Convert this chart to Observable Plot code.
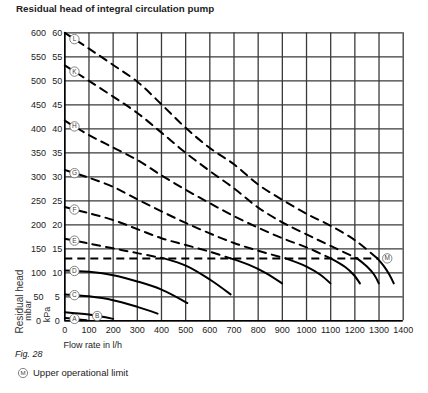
<!DOCTYPE html>
<html><head><meta charset="utf-8">
<script src="https://cdn.jsdelivr.net/npm/d3@7"></script>
<script src="https://cdn.jsdelivr.net/npm/@observablehq/plot@0.6"></script>
<style>
body{margin:0;background:#fff;font-family:"Liberation Sans",Arial,sans-serif;color:#222;}
#wrap{position:relative;width:428px;height:393px;overflow:hidden;}
#title{position:absolute;left:16px;top:3.8px;font-weight:bold;font-size:9.8px;line-height:1;white-space:nowrap;}
#chart{position:absolute;left:0;top:20px;}
#fig{position:absolute;left:15px;top:350px;font-style:italic;font-size:9px;line-height:1;}
#legsym{position:absolute;left:16.5px;top:366.8px;}
#legtxt{position:absolute;left:33px;top:367.5px;font-size:9.5px;line-height:1;white-space:nowrap;}
</style></head>
<body>
<div id="wrap">
  <div id="title">Residual head of integral circulation pump</div>
  <div id="chart"></div>
  <div id="fig">Fig. 28</div>
  <svg id="legsym" width="12" height="12"><circle cx="6" cy="6" r="4.6" fill="#fff" stroke="#666" stroke-width="0.8"/><text x="6" y="8.2" text-anchor="middle" font-size="6.2" font-family="Liberation Sans, Arial, sans-serif" fill="#444">M</text></svg>
  <div id="legtxt">Upper operational limit</div>
</div>
<script>
// ---- data (flow in l/h, residual head in mbar) ----
const xTicks = [0,100,200,300,400,500,600,700,800,900,1000,1100,1200,1300,1400];
const mbarTicks = [0,50,100,150,200,250,300,350,400,450,500,550,600];
const kPaTicks = [0,5,10,15,20,25,30,35,40,45,50,55,60];

const flowA = [0, 50, 90];
const headA = [6, 3.5, 1];
const flowB = [0, 100, 200];
const headB = [18, 13, 4];
const flowC = [0, 100, 200, 300, 384];
const headC = [55, 51, 43, 29, 15];
const flowD = [0, 100, 200, 300, 400, 507];
const headD = [105, 102, 95, 82, 65, 37];
const flowE = [0, 100, 200, 300, 410, 505, 600, 686];
const headE = [171, 161, 151, 141, 130, 114, 86, 55];
const flowF = [0, 100, 200, 300, 400, 500, 600, 686, 760, 830, 899];
const headF = [237, 224, 210, 191, 172, 158, 144, 130, 117, 100, 78];
const flowG = [0, 100, 200, 300, 400, 500, 600, 700, 800, 913, 1000, 1060, 1099];
const headG = [314, 298, 279, 253, 228, 204, 182, 162, 146, 130, 113, 95, 78];
const flowH = [0, 100, 200, 300, 400, 500, 600, 700, 800, 900, 1000, 1100, 1160, 1195, 1221];
const headH = [417, 387, 361, 335, 303, 273, 245, 218, 194, 172, 153, 130, 112, 96, 78];
const flowK = [0, 100, 200, 300, 400, 500, 600, 700, 800, 900, 1000, 1100, 1209, 1250, 1280, 1299];
const headK = [532, 500, 467, 433, 392, 350, 312, 276, 236, 205, 180, 156, 130, 113, 96, 78];
const flowL = [0, 100, 200, 300, 400, 500, 600, 700, 800, 900, 1000, 1100, 1200, 1293, 1320, 1343, 1361];
const headL = [600, 567, 533, 498, 451, 402, 360, 326, 284, 252, 223, 198, 168, 130, 114, 96, 78];

const curveNames = ["A","B","C","D","E","F","G","H","K","L"];
const curveDashed = [false,false,false,false,true,true,true,true,true,true];
const labelFlow = [40, 134, 40, 40, 40, 40, 40, 40, 40, 40];

const upperLimit = 130;          // M: upper operational limit (mbar)
const limitFlow = [0, 1300];
const mLabelFlow = 1334;

// ---- build tables ----
const flows = [flowA, flowB, flowC, flowD, flowE, flowF, flowG, flowH, flowK, flowL];
const heads = [headA, headB, headC, headD, headE, headF, headG, headH, headK, headL];
const dashedRows = [], solidRows = [], labelRows = [];
curveNames.forEach((name, ci) => {
  const fl = flows[ci], hd = heads[ci];
  fl.forEach((f, i) => {
    const h = hd[i];
    if (curveDashed[ci] && h >= upperLimit) dashedRows.push({curve: name, flow: f, head: h});
    if (!curveDashed[ci] || h <= upperLimit) solidRows.push({curve: name, flow: f, head: h});
  });
  const lf = labelFlow[ci];
  let j = 0; while (j < fl.length - 2 && fl[j + 1] < lf) j++;
  const t = (lf - fl[j]) / (fl[j + 1] - fl[j]);
  labelRows.push({curve: name, flow: lf, head: hd[j] + t * (hd[j + 1] - hd[j])});
});
labelRows.push({curve: "M", flow: mLabelFlow, head: upperLimit});
const kpaByMbar = new Map(mbarTicks.map((v, i) => [v, kPaTicks[i]]));

const font = "Liberation Sans, Arial, sans-serif";
const chart = Plot.plot({
  width: 428, height: 330,
  marginLeft: 64.3, marginRight: 25.3, marginTop: 12.3, marginBottom: 29.7,
  x: {domain: [0, 1400]},
  y: {domain: [0, 600]},
  style: {fontFamily: font, fontSize: "9px", color: "#222", background: "#fff", overflow: "visible"},
  marks: [
    Plot.ruleX(xTicks, {stroke: "#3a3a3a", strokeWidth: 1.3}),
    Plot.ruleY(mbarTicks, {stroke: "#3a3a3a", strokeWidth: 1.3}),
    Plot.ruleX([0], {stroke: "#000", strokeWidth: 1.5}),
    Plot.ruleY([0], {stroke: "#000", strokeWidth: 1.5}),
    Plot.ruleY([upperLimit], {x1: limitFlow[0], x2: limitFlow[1], stroke: "#000", strokeWidth: 2, strokeDasharray: "8,5"}),
    Plot.line(dashedRows, {x: "flow", y: "head", z: "curve", stroke: "#000", strokeWidth: 2, strokeDasharray: "8,6", curve: "catmull-rom"}),
    Plot.line(solidRows, {x: "flow", y: "head", z: "curve", stroke: "#000", strokeWidth: 2, curve: "catmull-rom"}),
    Plot.dot(labelRows, {x: "flow", y: "head", r: 4.7, fill: "#fff", stroke: "#666", strokeWidth: 0.8}),
    Plot.text(labelRows, {x: "flow", y: "head", text: "curve", fontSize: 6.5, fill: "#444"}),
    Plot.axisX({ticks: xTicks, tickSize: 0, tickPadding: 5.7, label: null, fontSize: 9, tickFormat: d => String(d)}),
    Plot.axisY({ticks: mbarTicks, tickSize: 0, tickPadding: 26.3, textAnchor: "middle", label: null, fontSize: 9, tickFormat: d => String(d)}),
    Plot.axisY({ticks: mbarTicks, tickSize: 0, tickPadding: 7.5, textAnchor: "middle", label: null, fontSize: 9, tickFormat: d => String(kpaByMbar.get(d))}),
    Plot.text(["Residual head"], {frameAnchor: "bottom-left", text: d => d, rotate: -90, textAnchor: "start", dx: -42.3, dy: 12.7, fontSize: 10, fill: "#333"}),
    Plot.text(["mbar"], {frameAnchor: "bottom-left", text: d => d, rotate: -90, textAnchor: "start", dx: -33.8, dy: 0, fontSize: 9, fill: "#333"}),
    Plot.text(["kPa"], {frameAnchor: "bottom-left", text: d => d, rotate: -90, textAnchor: "start", dx: -14.8, dy: 1.4, fontSize: 9, fill: "#333"}),
    Plot.text(["Flow rate in l/h"], {frameAnchor: "bottom-left", text: d => d, textAnchor: "start", lineAnchor: "bottom", dx: -1.3, dy: 26.7, fontSize: 9, fill: "#222"})
  ]
});
document.getElementById("chart").appendChild(chart);
</script>
</body></html>
